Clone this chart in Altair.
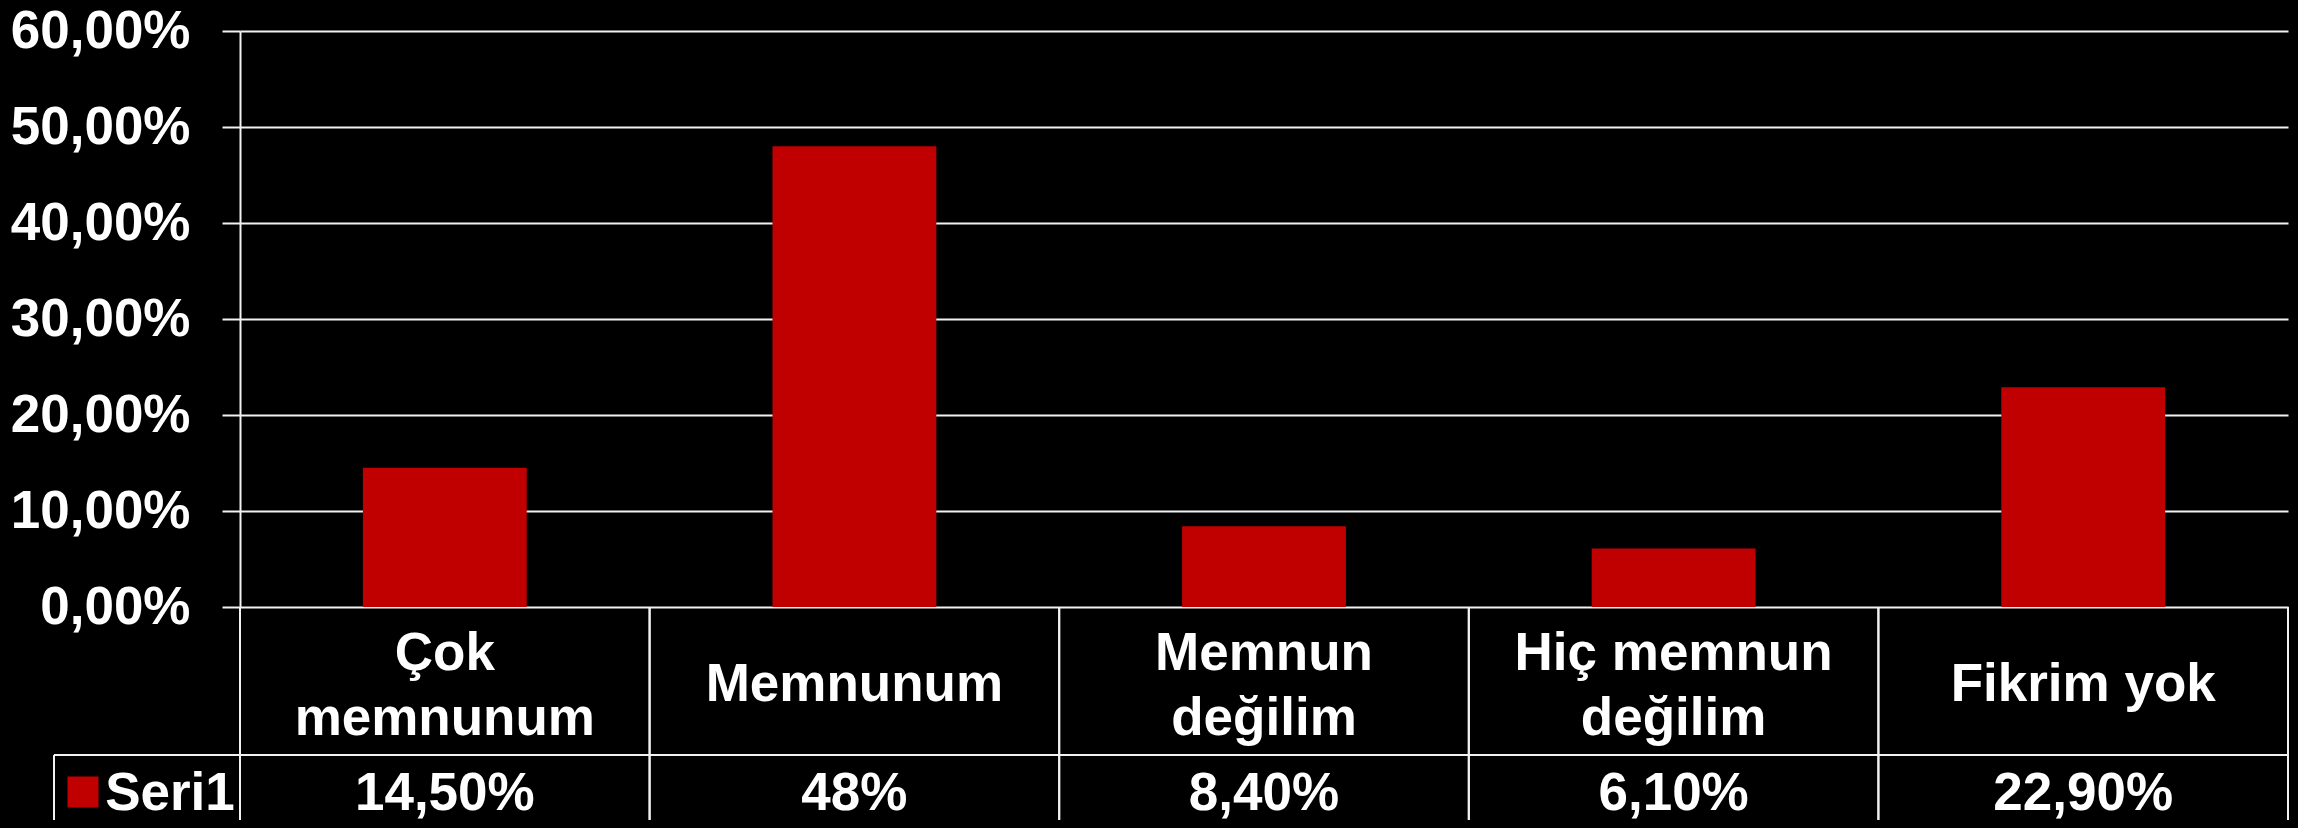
import altair as alt
import pandas as pd
import jinja2

# ---- data ----
categories = ["Çok\nmemnunum", "Memnunum", "Memnun\ndeğilim", "Hiç memnun\ndeğilim", "Fikrim yok"]
values = [0.145, 0.48, 0.084, 0.061, 0.229]
value_labels = ["14,50%", "48%", "8,40%", "6,10%", "22,90%"]
series_name = "Seri1"
y_ticks = [0.0, 0.1, 0.2, 0.3, 0.4, 0.5, 0.6]

df = pd.DataFrame({"cat": categories, "value": values, "label": value_labels})
legend_df = pd.DataFrame({"series": [series_name]})

# ---- layout / style ----
W = 2048          # plot width
H = 789           # full drawing height (plot + data table)
PLOT_H = 576      # height of bar area
ROW2 = 724        # top of value row of data table
LEG_X = -186      # left border of legend cell
LABEL_Y = 654     # centre of category row text
LINE_H = 65
FONT = "Liberation Sans"
FS = 53
LINE = "#f2f2f2"
SW = 2
RED = "#C00000"

x_scale = alt.Scale(domain=categories, paddingInner=0, paddingOuter=0)
x_enc = alt.X("cat:N", scale=x_scale, axis=None)

base = alt.Chart(df)

bars = base.mark_bar(color=RED, width=alt.RelativeBandSize(band=0.4)).encode(
    x=x_enc,
    y=alt.Y(
        "value:Q",
        scale=alt.Scale(domain=[0, 0.6], range=[PLOT_H, 0], nice=False, zero=True),
        axis=alt.Axis(
            values=y_ticks,
            labelExpr="replace(format(datum.value*100, '.2f'), '.', ',') + '%'",
            title=None,
            grid=True,
            gridColor=LINE,
            gridWidth=SW,
            domainColor=LINE,
            domainWidth=SW,
            tickColor=LINE,
            tickWidth=SW,
            tickSize=18,
            labelPadding=32,
            labelFont=FONT,
            labelFontSize=FS,
            labelFontWeight="bold",
            labelColor="white",
        ),
    ),
)

text_style = dict(font=FONT, fontSize=FS, fontWeight="bold", color="white",
                  baseline="middle", align="center")

cat_text_one = base.transform_filter("indexof(datum.cat, '\\n') < 0").mark_text(
    **text_style
).encode(x=x_enc, y=alt.value(LABEL_Y), text="cat:N")

cat_text_two = base.transform_filter("indexof(datum.cat, '\\n') >= 0").mark_text(
    lineBreak="\n", lineHeight=LINE_H, **text_style
).encode(x=x_enc, y=alt.value(LABEL_Y - LINE_H / 2 + 1), text="cat:N")

val_text = base.mark_text(**text_style).encode(
    x=x_enc, y=alt.value(763), text="label:N"
)

vlines_start = base.mark_rule(color=LINE, strokeWidth=SW).encode(
    x=alt.X("cat:N", bandPosition=0, scale=x_scale, axis=None),
    y=alt.value(PLOT_H), y2=alt.value(H),
)
vlines_end = base.mark_rule(color=LINE, strokeWidth=SW).encode(
    x=alt.X("cat:N", bandPosition=1, scale=x_scale, axis=None),
    y=alt.value(PLOT_H), y2=alt.value(H),
)

leg = alt.Chart(legend_df)
hline_row2 = leg.mark_rule(color=LINE, strokeWidth=SW).encode(
    x=alt.value(LEG_X), x2=alt.value(W), y=alt.value(ROW2)
)
leg_border = leg.mark_rule(color=LINE, strokeWidth=SW).encode(
    x=alt.value(LEG_X), y=alt.value(ROW2), y2=alt.value(H)
)
leg_square = leg.mark_square(color=RED, size=961, opacity=1, filled=True).encode(
    x=alt.value(-157), y=alt.value(761)
)
leg_text = leg.mark_text(**text_style).encode(
    x=alt.value(-70), y=alt.value(763), text="series:N"
)

chart = alt.layer(
    bars, vlines_start, vlines_end, hline_row2, leg_border, leg_square, leg_text,
    cat_text_one, cat_text_two, val_text
).properties(
    width=W,
    height=H,
    padding={"left": 232, "top": 23, "right": 2, "bottom": 0},
    autosize=alt.AutoSizeParams(type="none"),
).configure(
    background="black",
).configure_view(
    stroke=None,
)

TEMPLATE = jinja2.Template("""<!DOCTYPE html>
<html>
<head>
  <meta charset="utf-8">
  <style>
    html, body { background: #000000; }
    #{{ output_div }}.vega-embed { width: 100%; display: flex; }
  </style>
  <script type="text/javascript" src="{{ base_url }}/vega@{{ vega_version }}"></script>
  <script type="text/javascript" src="{{ base_url }}/vega-lite@{{ vegalite_version }}"></script>
  <script type="text/javascript" src="{{ base_url }}/vega-embed@{{ vegaembed_version }}"></script>
</head>
<body>
<div id="{{ output_div }}"></div>
<script>
  (function(vegaEmbed) {
    var spec = {{ spec }};
    var embedOpt = {{ embed_options }};
    function showError(el, error){
      el.innerHTML = ('<div style="color:red;"><p>JavaScript Error: ' + error.message + '</p></div>');
      throw error;
    }
    const el = document.getElementById('{{ output_div }}');
    vegaEmbed("#{{ output_div }}", spec, embedOpt).catch(error => showError(el, error));
  })(vegaEmbed);
</script>
</body>
</html>
""")

chart.save("out.html", embed_options={"renderer": "svg", "actions": False}, template=TEMPLATE)
